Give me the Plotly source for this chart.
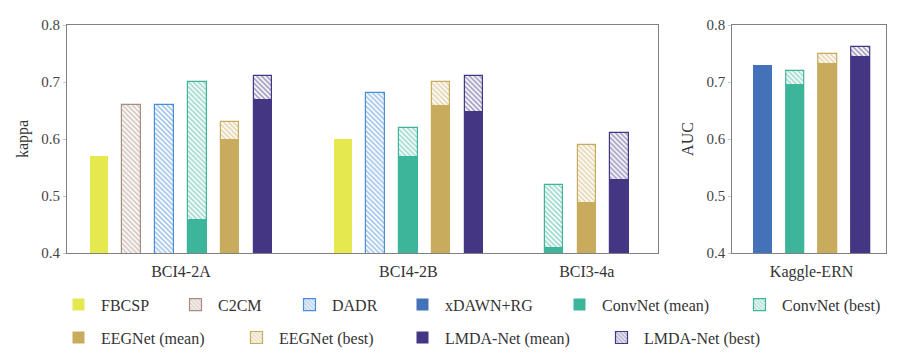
import plotly.graph_objects as go

# ---------------- data ----------------
datasets_left = ["BCI4-2A", "BCI4-2B", "BCI3-4a"]
dataset_right = ["Kaggle-ERN"]

fbcsp = [0.57, 0.60, None]
c2cm = [0.66, None, None]
dadr = [0.66, 0.68, None]
convnet_mean = [0.46, 0.57, 0.41]
convnet_best = [0.70, 0.62, 0.52]
eegnet_mean = [0.60, 0.66, 0.49]
eegnet_best = [0.63, 0.70, 0.59]
lmda_mean = [0.67, 0.65, 0.53]
lmda_best = [0.71, 0.71, 0.61]

xdawn_ern = [0.73]
convnet_mean_ern = [0.697]
convnet_best_ern = [0.72]
eegnet_mean_ern = [0.733]
eegnet_best_ern = [0.75]
lmda_mean_ern = [0.745]
lmda_best_ern = [0.762]

legend_names = ["FBCSP", "C2CM", "DADR", "xDAWN+RG", "ConvNet (mean)", "ConvNet (best)",
                "EEGNet (mean)", "EEGNet (best)", "LMDA-Net (mean)", "LMDA-Net (best)"]

# ---------------- styles / layout ----------------
FONT = "Liberation Serif"
TXT = "#333333"
AX = "#808080"
C_FBCSP = "#E6E84F"
C_C2CM = "#A88C80"
C_DADR = "#4A8ED8"
C_XDAWN = "#4472B8"
C_CONV = "#3DB59A"
C_EEG = "#C9AB5E"
C_LMDA = "#443683"

W, H = 907, 362
PLOT_TOP, PLOT_BOTTOM = 25, 253.3
BAR_W = 0.56
GROUP_GAP = 2.43

# legend entry placement (text-start pixel x, row centre pixel y)
legend_text_x = [101, 218, 332, 445, 602, 782, 101, 279, 445, 644]
legend_row_y = [305] * 6 + [338] * 4

# slot order of methods within a group: (name, mean values, best values, colour)
methods_left = [
    ("FBCSP", fbcsp, None, C_FBCSP),
    ("C2CM", None, c2cm, C_C2CM),
    ("DADR", None, dadr, C_DADR),
    ("ConvNet", convnet_mean, convnet_best, C_CONV),
    ("EEGNet", eegnet_mean, eegnet_best, C_EEG),
    ("LMDA-Net", lmda_mean, lmda_best, C_LMDA),
]

# compute slot positions per dataset (compact groups)
pos_left = {}
start = 0.0
group_centers = []
for di, ds in enumerate(datasets_left):
    k = 0
    for name, mv, bv, col in methods_left:
        vals = mv if mv is not None else bv
        if vals[di] is not None:
            pos_left[(name, di)] = start + k
            k += 1
    group_centers.append(start + (k - 1) / 2.0)
    start = start + (k - 1) + GROUP_GAP
left_max = start - GROUP_GAP


def pattern(col):
    return dict(shape="\\", fgcolor=col, bgcolor="white", size=3.5, solidity=0.5)


def legend_key(name):
    i = legend_names.index(name)
    return "legend" if i == 0 else "legend%d" % (i + 1)


fig = go.Figure()


def add_bar(name, xs, ys, col, hatched, xaxis, yaxis, showlegend, width):
    if hatched:
        marker = dict(color="white", pattern=pattern(col), line=dict(color=col, width=1.2))
    else:
        marker = dict(color=col, line=dict(color=col, width=0))
    fig.add_trace(go.Bar(
        x=xs, y=ys, name=name, marker=marker, width=width,
        xaxis=xaxis, yaxis=yaxis, showlegend=showlegend,
        legendgroup=name, legend=legend_key(name),
        hoverinfo="y",
    ))


# left subplot: draw "best" (hatched) first, "mean" on top
for name, mv, bv, col in methods_left:
    if bv is not None:
        xs = [pos_left[(name, i)] for i in range(len(datasets_left)) if bv[i] is not None]
        ys = [v for v in bv if v is not None]
        lname = name if mv is None else name + " (best)"
        add_bar(lname, xs, ys, col, True, "x", "y", True, BAR_W)
    if mv is not None:
        xs = [pos_left[(name, i)] for i in range(len(datasets_left)) if mv[i] is not None]
        ys = [v for v in mv if v is not None]
        lname = name if bv is None else name + " (mean)"
        add_bar(lname, xs, ys, col, False, "x", "y", True, BAR_W)

# right subplot
methods_right = [
    ("xDAWN+RG", xdawn_ern, None, C_XDAWN),
    ("ConvNet", convnet_mean_ern, convnet_best_ern, C_CONV),
    ("EEGNet", eegnet_mean_ern, eegnet_best_ern, C_EEG),
    ("LMDA-Net", lmda_mean_ern, lmda_best_ern, C_LMDA),
]
for k, (name, mv, bv, col) in enumerate(methods_right):
    if bv is not None:
        add_bar(name + " (best)", [k], bv, col, True, "x2", "y2", False, 0.58)
        add_bar(name + " (mean)", [k], mv, col, False, "x2", "y2", False, 0.58)
    else:
        add_bar(name, [k], mv, col, False, "x2", "y2", True, 0.58)

axis_common = dict(showline=True, mirror=True, linecolor=AX, linewidth=1.2,
                   showgrid=False, zeroline=False)

plot_h = PLOT_BOTTOM - PLOT_TOP
legends = {}
ITEMW = 35
for i, nm in enumerate(legend_names):
    key = "legend" if i == 0 else "legend%d" % (i + 1)
    legends[key] = dict(
        orientation="h",
        x=(legend_text_x[i] - ITEMW - 10) / W, xanchor="left",
        y=(PLOT_BOTTOM - legend_row_y[i]) / plot_h, yanchor="middle",
        font=dict(size=16, family=FONT, color=TXT),
        itemwidth=ITEMW, itemclick=False, itemdoubleclick=False,
        bgcolor="rgba(0,0,0,0)", borderwidth=0,
    )

fig.update_layout(
    width=W, height=H,
    margin=dict(l=0, r=0, t=PLOT_TOP, b=H - PLOT_BOTTOM, autoexpand=False),
    paper_bgcolor="white", plot_bgcolor="white",
    font=dict(family=FONT, size=16, color=TXT),
    barmode="overlay",
    bargap=0,
    xaxis=dict(domain=[67 / W, 658.3 / W], range=[-0.97, left_max + 1.18],
               tickmode="array", tickvals=group_centers, ticktext=datasets_left,
               ticks="", tickfont=dict(size=16), ticklabelstandoff=4, **axis_common),
    yaxis=dict(range=[0.4, 0.8], dtick=0.1, tickformat=".1f",
               ticks="outside", ticklen=3, tickcolor="#c8c8c8",
               tickfont=dict(size=15, color="#444444"),
               title=dict(text="kappa", standoff=8, font=dict(size=16)), **axis_common),
    xaxis2=dict(domain=[732.3 / W, 886 / W], range=[-0.93, 3.78], anchor="y2",
                tickmode="array", tickvals=[1.5], ticktext=dataset_right,
                ticks="", tickfont=dict(size=16), ticklabelstandoff=4, **axis_common),
    yaxis2=dict(anchor="x2", range=[0.4, 0.8], dtick=0.1, tickformat=".1f",
                ticks="outside", ticklen=3, tickcolor="#c8c8c8",
                tickfont=dict(size=15, color="#444444"),
                title=dict(text="AUC", standoff=8, font=dict(size=16)), **axis_common),
    showlegend=True,
    **legends,
)

fig.write_html("out.html",
               config={"displayModeBar": False},
               post_script="document.body.style.margin='0px';document.body.style.overflow='hidden';")
